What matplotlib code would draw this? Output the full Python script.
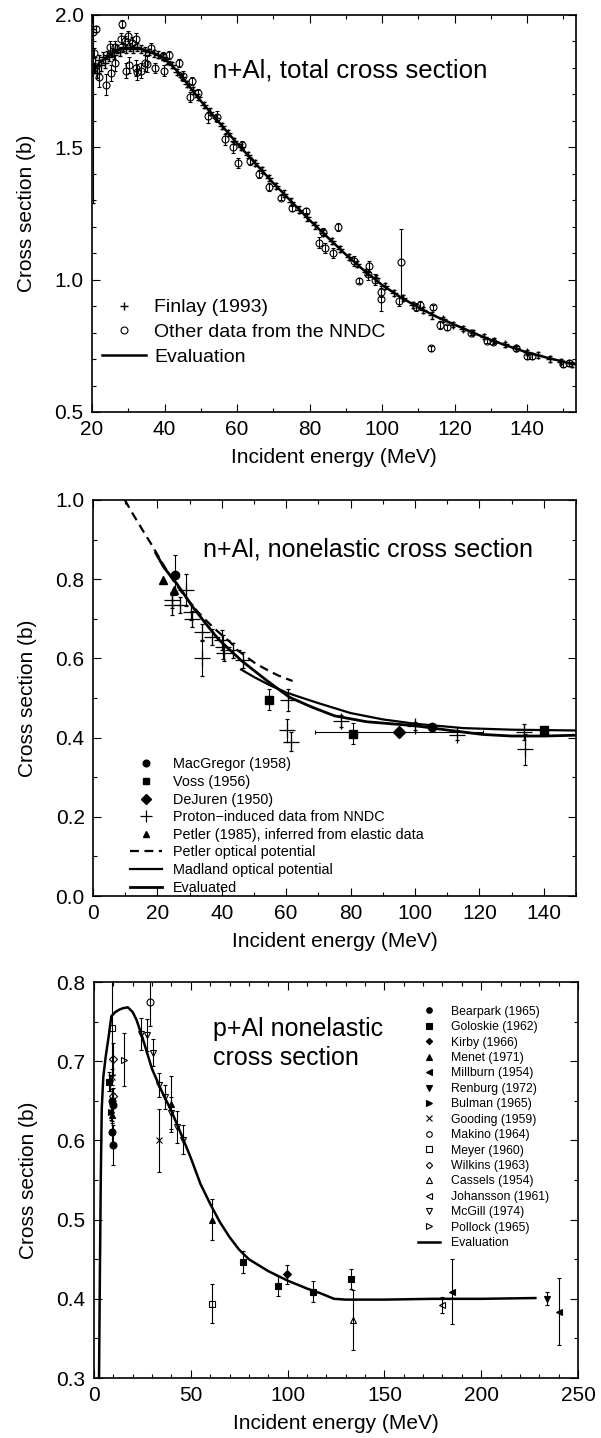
import matplotlib
matplotlib.use("Agg")
import matplotlib.pyplot as plt
from matplotlib.ticker import MultipleLocator

plt.rcParams['font.family'] = ['Liberation Sans', 'DejaVu Sans']

# ---------------- panel 1: n+Al total cross section ----------------
tot_eval_e = [20, 20.5, 21, 22, 23, 24, 25, 26, 28, 30, 32, 34, 36, 38, 40, 42, 44, 46, 48, 50,
              55, 60, 65, 70, 75, 80, 85, 90, 95, 100, 105, 110, 115, 120, 125, 130, 135, 140,
              145, 150, 153.5]
tot_eval_v = [1.77, 1.79, 1.80, 1.82, 1.83, 1.84, 1.85, 1.86, 1.87, 1.875, 1.875, 1.87, 1.86,
              1.85, 1.835, 1.81, 1.78, 1.745, 1.71, 1.675, 1.595, 1.515, 1.44, 1.365, 1.295,
              1.225, 1.16, 1.095, 1.035, 0.98, 0.935, 0.895, 0.86, 0.83, 0.80, 0.772, 0.748,
              0.725, 0.707, 0.69, 0.68]

finlay_e = [20.3, 20.8, 21.3, 21.8, 22.4, 23.0, 23.6, 24.2, 24.8, 25.5, 26.2, 27.0, 27.8, 28.6,
            29.5, 30.4, 31.4, 32.4, 33.5, 34.6, 35.8, 37.0, 38.2, 39.5, 40.8, 42.1, 43.5, 44.9,
            46.3, 47.8, 49.3, 50.9, 52.5, 54.1, 55.8, 57.5, 59.3, 61.1, 63.0, 64.9, 66.8, 68.8,
            70.8, 72.9, 75.0, 77.1, 79.3, 81.5, 83.8, 86.1, 88.4, 90.8, 93.2, 95.7, 98.2, 100.7,
            103.3, 105.9, 108.5, 111.2, 113.9, 116.7, 119.5, 122.3, 125.2, 128.1, 131.0, 134.0,
            137.0, 140.0, 143.1, 146.2, 149.3, 152.4]
finlay_v = [1.79, 1.81, 1.78, 1.83, 1.81, 1.84, 1.82, 1.85, 1.84, 1.86, 1.85, 1.87, 1.86, 1.88,
            1.87, 1.88, 1.87, 1.88, 1.87, 1.865, 1.86, 1.855, 1.85, 1.84, 1.825, 1.81, 1.785,
            1.765, 1.74, 1.715, 1.69, 1.66, 1.635, 1.61, 1.58, 1.555, 1.525, 1.50, 1.47, 1.44,
            1.415, 1.385, 1.355, 1.325, 1.295, 1.265, 1.235, 1.205, 1.175, 1.145, 1.115, 1.085,
            1.06, 1.03, 1.005, 0.975, 0.95, 0.93, 0.905, 0.885, 0.865, 0.85, 0.83, 0.815, 0.80,
            0.785, 0.77, 0.755, 0.74, 0.725, 0.715, 0.70, 0.69, 0.68]
finlay_err = [0.5, 0.03, 0.02, 0.02, 0.02, 0.02, 0.02, 0.015, 0.015, 0.015, 0.015, 0.015,
              0.015, 0.015, 0.015, 0.015, 0.015, 0.015, 0.015, 0.015, 0.012, 0.012, 0.012,
              0.012, 0.012, 0.012, 0.012, 0.012, 0.012, 0.012, 0.012, 0.012, 0.012, 0.012,
              0.012, 0.012, 0.012, 0.012, 0.012, 0.012, 0.012, 0.012, 0.012, 0.012, 0.012,
              0.012, 0.012, 0.012, 0.012, 0.012, 0.012, 0.012, 0.012, 0.012, 0.012, 0.012,
              0.012, 0.012, 0.012, 0.012, 0.012, 0.01, 0.01, 0.01, 0.01, 0.01, 0.01, 0.01,
              0.01, 0.01, 0.01, 0.01, 0.01, 0.01]

nndc_e = [20.3, 21.0, 20.6, 20.6, 22.0, 23.9, 25.3, 26.4, 25.0, 26.4, 28.3, 28.0, 29.0, 30.0,
          31.0, 32.0, 29.5, 30.1, 32.0, 32.5, 33.5, 34.5, 35.2, 37.3, 36.2, 39.5, 39.8, 41.3,
          44.0, 45.0, 47.6, 46.9, 49.3, 52.1, 54.6, 56.7, 58.8, 60.2, 61.3, 63.6, 66.0, 68.9,
          72.0, 75.3, 78.9, 83.7, 87.9, 82.5, 84.2, 86.4, 92.2, 96.4, 96.1, 93.7, 98.0, 99.8,
          99.8, 105.3, 104.8, 109.5, 110.5, 114.0, 113.6, 116.0, 118.0, 124.4, 129.0, 130.5,
          137.0, 140.0, 141.5, 150.0, 151.5]
nndc_v = [1.936, 1.947, 1.857, 1.80, 1.766, 1.736, 1.78, 1.82, 1.88, 1.88, 1.966, 1.91, 1.90,
          1.92, 1.895, 1.91, 1.79, 1.81, 1.80, 1.785, 1.79, 1.82, 1.815, 1.80, 1.875, 1.845,
          1.79, 1.85, 1.82, 1.77, 1.75, 1.69, 1.705, 1.62, 1.616, 1.53, 1.50, 1.44, 1.51, 1.45,
          1.40, 1.35, 1.31, 1.27, 1.26, 1.18, 1.20, 1.14, 1.12, 1.10, 1.07, 1.05, 1.02, 0.996,
          1.00, 0.955, 0.925, 1.065, 0.92, 0.895, 0.905, 0.895, 0.74, 0.83, 0.82, 0.80, 0.77,
          0.765, 0.74, 0.71, 0.71, 0.68, 0.685]
nndc_err = [0.01, 0.01, 0.02, 0.02, 0.04, 0.04, 0.03, 0.03, 0.02, 0.02, 0.015, 0.02, 0.02, 0.02,
            0.02, 0.02, 0.03, 0.03, 0.03, 0.03, 0.03, 0.03, 0.03, 0.02, 0.02, 0.015, 0.02, 0.015,
            0.015, 0.02, 0.015, 0.02, 0.015, 0.03, 0.02, 0.02, 0.02, 0.02, 0.015, 0.015, 0.015,
            0.015, 0.01, 0.01, 0.01, 0.015, 0.015, 0.02, 0.02, 0.02, 0.02, 0.02, 0.02, 0.01,
            0.02, 0.02, 0.045, 0.125, 0.02, 0.015, 0.015, 0.01, 0.01, 0.015, 0.01, 0.01, 0.01,
            0.01, 0.01, 0.01, 0.01, 0.01, 0.01]

# ---------------- panel 2: n+Al nonelastic ----------------
macgregor_e = [25.6, 105.2]
macgregor_v = [0.810, 0.428]
macgregor_err = [0.05, 0.006]

voss_e = [54.8, 80.8, 140.2]
voss_v = [0.496, 0.410, 0.420]
voss_err = [0.027, 0.027, 0.01]

dejuren_e = [95.0]
dejuren_v = [0.415]
dejuren_xerr = [26.0]
dejuren_err = [0.01]

proton_e = [24.4, 24.4, 27.0, 28.9, 30.3, 30.8, 33.8, 34.0, 36.9, 40.0, 40.5, 40.8, 43.6, 46.5,
            60.7, 60.2, 61.4, 77.0, 100.0, 113.0, 134.2, 134.0]
proton_v = [0.747, 0.734, 0.734, 0.772, 0.717, 0.700, 0.667, 0.600, 0.654, 0.646, 0.629, 0.613,
            0.620, 0.595, 0.495, 0.418, 0.390, 0.443, 0.430, 0.407, 0.370, 0.415]
proton_err = [0.02, 0.025, 0.02, 0.04, 0.02, 0.02, 0.02, 0.045, 0.02, 0.025, 0.03, 0.02, 0.02,
              0.02, 0.027, 0.03, 0.025, 0.015, 0.01, 0.012, 0.04, 0.02]

petler_e = [21.8, 25.2]
petler_v = [0.799, 0.772]

petler_opt_e = [9.9, 12, 14, 16, 18, 20, 22.5, 25, 27.5, 30, 32.5, 35, 37.5, 40, 42.5, 45, 47.5,
                50, 52.5, 55, 57.5, 60, 62]
petler_opt_v = [1.0, 0.97, 0.943, 0.916, 0.89, 0.862, 0.828, 0.796, 0.768, 0.742, 0.718, 0.697,
                0.677, 0.659, 0.642, 0.62, 0.605, 0.59, 0.578, 0.567, 0.557, 0.549, 0.543]

madland_e = [46, 50, 55, 60, 64, 70, 80, 90, 100, 115, 130, 150]
madland_v = [0.572, 0.553, 0.532, 0.514, 0.503, 0.487, 0.462, 0.446, 0.435, 0.424, 0.420, 0.418]

evaluated_e = [19.5, 22, 26, 31, 35, 39, 46, 54, 61, 68, 75, 85, 100, 111, 121, 130, 140, 150]
evaluated_v = [0.866, 0.83, 0.789, 0.73, 0.688, 0.648, 0.595, 0.544, 0.502, 0.477, 0.455,
               0.44, 0.43, 0.418, 0.408, 0.404, 0.404, 0.406]

# ---------------- panel 3: p+Al nonelastic ----------------
bearpark_e = [9.3, 9.6, 9.5, 9.8]
bearpark_v = [0.650, 0.645, 0.610, 0.594]
bearpark_err = [0.015, 0.015, 0.015, 0.025]
goloskie_e = [7.9, 77, 95, 113, 133]
goloskie_v = [0.674, 0.446, 0.416, 0.409, 0.425]
goloskie_err = [0.012, 0.014, 0.013, 0.013, 0.013]
kirby_e = [99.5]
kirby_v = [0.431]
kirby_err = [0.012]
menet_e = [9.2, 39.8, 60.7]
menet_v = [0.632, 0.646, 0.500]
menet_err = [0.01, 0.035, 0.026]
millburn_e = [185, 240.4]
millburn_v = [0.409, 0.384]
millburn_err = [0.041, 0.042]
renburg_e = [8.2, 234]
renburg_v = [0.672, 0.400]
renburg_err = [0.01, 0.008]
bulman_e = [9.0]
bulman_v = [0.636]
bulman_err = [0.01]
gooding_e = [9.4, 33.7]
gooding_v = [0.68, 0.600]
gooding_err = [0.01, 0.04]
makino_e = [28.9]
makino_v = [0.775]
makino_err = [0.03]
meyer_e = [9.1, 61]
meyer_v = [0.742, 0.394]
meyer_err = [0.06, 0.025]
wilkins_e = [10.0, 9.8]
wilkins_v = [0.703, 0.656]
wilkins_err = [0.02, 0.01]
cassels_e = [134]
cassels_v = [0.373]
cassels_err = [0.038]
johansson_e = [180]
johansson_v = [0.392]
johansson_err = [0.01]
mcgill_e = [24.3, 27.5, 30.6, 33.6, 36.7, 39.8, 42.7, 46.1]
mcgill_v = [0.734, 0.733, 0.711, 0.670, 0.655, 0.635, 0.617, 0.601]
mcgill_err = [0.02, 0.02, 0.017, 0.015, 0.015, 0.02, 0.02, 0.018]
pollock_e = [15.7]
pollock_v = [0.702]
pollock_err = [0.033]

p_eval_e = [2.6, 3.0, 3.5, 4.0, 4.8, 6.0, 7.5, 9.0, 11, 13, 15, 17.5, 20, 22, 25, 30, 35, 40, 45,
            50, 55, 60, 65, 70, 75, 80, 90, 100, 110, 117, 124, 130, 150, 175, 200, 228]
p_eval_v = [0.30, 0.42, 0.55, 0.64, 0.68, 0.705, 0.73, 0.757, 0.762, 0.765, 0.767, 0.768, 0.762,
            0.752, 0.73, 0.69, 0.662, 0.637, 0.608, 0.578, 0.545, 0.52, 0.497, 0.478, 0.462,
            0.45, 0.435, 0.423, 0.413, 0.407, 0.400, 0.399, 0.399, 0.400, 0.400, 0.401]


def style_axes(ax, xmaj, xmin, ymaj, ymin):
    ax.xaxis.set_major_locator(MultipleLocator(xmaj))
    ax.xaxis.set_minor_locator(MultipleLocator(xmin))
    ax.yaxis.set_major_locator(MultipleLocator(ymaj))
    ax.yaxis.set_minor_locator(MultipleLocator(ymin))
    ax.tick_params(which='both', direction='in', top=True, right=True, labelsize=15, pad=6,
                   width=0.8)
    ax.tick_params(which='major', length=6)
    ax.tick_params(which='minor', length=3)
    for s in ax.spines.values():
        s.set_linewidth(1.2)
    ax.set_xlabel("Incident energy (MeV)", fontsize=15, labelpad=6)
    ax.set_ylabel("Cross section (b)", fontsize=15, labelpad=13)


fig = plt.figure(figsize=(6.01, 14.38), dpi=100)
ax1 = fig.add_axes([0.1531, 0.7135, 0.8053, 0.2761])
ax2 = fig.add_axes([0.1547, 0.3769, 0.8037, 0.2754])
ax3 = fig.add_axes([0.1564, 0.0417, 0.8053, 0.2754])

eb = dict(ecolor='black', elinewidth=0.8, capsize=1.5, capthick=0.8, linestyle='none')

# panel 1
fin = ax1.errorbar(finlay_e, finlay_v, yerr=finlay_err, fmt='+', color='black', ms=6, mew=1.0, **eb)
nn = ax1.errorbar(nndc_e, nndc_v, yerr=nndc_err, fmt='o', mfc='none', mec='black', ms=5, mew=0.8, **eb)
ev1, = ax1.plot(tot_eval_e, tot_eval_v, color='black', lw=1.8)
ax1.set_xlim(20, 153.5)
ax1.set_ylim(0.5, 2.0)
style_axes(ax1, 20, 10, 0.5, 0.1)
ax1.text(0.25, 0.86, "n+Al, total cross section", transform=ax1.transAxes, fontsize=18.6,
         va='center', ha='left')
ax1.legend([fin[0], nn[0], ev1], ["Finlay (1993)", "Other data from the NNDC", "Evaluation"],
           loc='upper left', bbox_to_anchor=(0.02, 0.285), frameon=False, fontsize=14,
           handlelength=2.3, handletextpad=0.4, labelspacing=0.36, borderpad=0, borderaxespad=0,
           numpoints=1)

# panel 2
h_mac = ax2.errorbar(macgregor_e, macgregor_v, yerr=macgregor_err, fmt='o', color='black', ms=6, **eb)
h_voss = ax2.errorbar(voss_e, voss_v, yerr=voss_err, fmt='s', color='black', ms=5.5, **eb)
h_dej = ax2.errorbar(dejuren_e, dejuren_v, xerr=dejuren_xerr, yerr=dejuren_err, fmt='D',
                     color='black', ms=6, **eb)
h_pro = ax2.errorbar(proton_e, proton_v, yerr=proton_err, fmt='+', color='black', ms=11, mew=0.9, **eb)
h_pet = ax2.errorbar(petler_e, petler_v, fmt='^', color='black', ms=6, **eb)
l_popt, = ax2.plot(petler_opt_e, petler_opt_v, color='black', lw=1.6, ls=(0, (4, 2.5)))
l_mad, = ax2.plot(madland_e, madland_v, color='black', lw=1.6)
l_eva, = ax2.plot(evaluated_e, evaluated_v, color='black', lw=2.0)
ax2.set_xlim(0, 150)
ax2.set_ylim(0, 1.0)
style_axes(ax2, 20, 10, 0.2, 0.1)
ax2.text(0.228, 0.875, "n+Al, nonelastic cross section", transform=ax2.transAxes, fontsize=18,
         va='center', ha='left')
ax2.legend([h_mac[0], h_voss[0], h_dej[0], h_pro[0], h_pet[0], l_popt, l_mad, l_eva],
           ["MacGregor (1958)", "Voss (1956)", "DeJuren (1950)", "Proton\u2212induced data from NNDC",
            "Petler (1985), inferred from elastic data", "Petler optical potential",
            "Madland optical potential", "Evaluated"],
           loc='upper left', bbox_to_anchor=(0.077, 0.35), frameon=False, fontsize=10.4,
           handlelength=2.2, handletextpad=0.75, labelspacing=0.25, borderpad=0, borderaxespad=0,
           numpoints=1, markerscale=0.8)

# panel 3
p_items = [
    (bearpark_e, bearpark_v, bearpark_err, 'o', 'black', "Bearpark (1965)"),
    (goloskie_e, goloskie_v, goloskie_err, 's', 'black', "Goloskie (1962)"),
    (kirby_e, kirby_v, kirby_err, 'D', 'black', "Kirby (1966)"),
    (menet_e, menet_v, menet_err, '^', 'black', "Menet (1971)"),
    (millburn_e, millburn_v, millburn_err, '<', 'black', "Millburn (1954)"),
    (renburg_e, renburg_v, renburg_err, 'v', 'black', "Renburg (1972)"),
    (bulman_e, bulman_v, bulman_err, '>', 'black', "Bulman (1965)"),
    (gooding_e, gooding_v, gooding_err, 'x', 'black', "Gooding (1959)"),
    (makino_e, makino_v, makino_err, 'o', 'none', "Makino (1964)"),
    (meyer_e, meyer_v, meyer_err, 's', 'none', "Meyer (1960)"),
    (wilkins_e, wilkins_v, wilkins_err, 'D', 'none', "Wilkins (1963)"),
    (cassels_e, cassels_v, cassels_err, '^', 'none', "Cassels (1954)"),
    (johansson_e, johansson_v, johansson_err, '<', 'none', "Johansson (1961)"),
    (mcgill_e, mcgill_v, mcgill_err, 'v', 'none', "McGill (1974)"),
    (pollock_e, pollock_v, pollock_err, '>', 'none', "Pollock (1965)"),
]
handles = []
labels = []
for e, v, err, mk, fc, lab in p_items:
    ms = 4 if mk == 'D' else 5
    h = ax3.errorbar(e, v, yerr=err, fmt=mk, mfc=fc, mec='black', color='black', ms=ms,
                     mew=0.8, **eb)
    handles.append(h[0])
    labels.append(lab)
l_pev, = ax3.plot(p_eval_e, p_eval_v, color='black', lw=1.8)
handles.append(l_pev)
labels.append("Evaluation")
ax3.set_xlim(0, 250)
ax3.set_ylim(0.3, 0.8)
style_axes(ax3, 50, 10, 0.1, 0.05)
ax3.text(0.246, 0.912, "p+Al nonelastic\ncross section", transform=ax3.transAxes, fontsize=18,
         va='top', ha='left', linespacing=1.25)
ax3.legend(handles, labels, loc='upper left', bbox_to_anchor=(0.67, 0.94), frameon=False,
           fontsize=8.8, handlelength=1.8, handletextpad=0.9, labelspacing=0.28, borderpad=0,
           borderaxespad=0, numpoints=1, markerscale=0.8)

fig.savefig("out.png", dpi=100)
